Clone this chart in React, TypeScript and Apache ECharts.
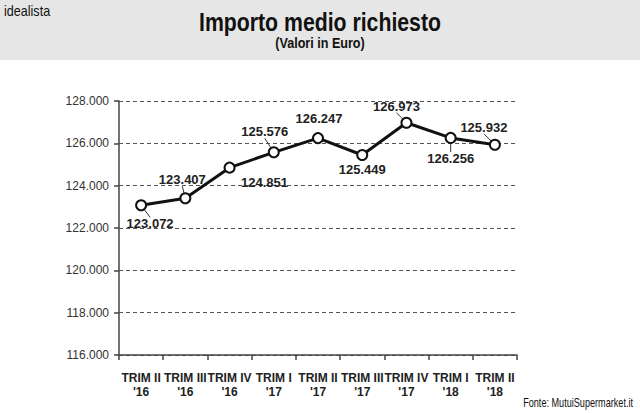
import React, { useEffect, useRef } from "react";
import * as echarts from "echarts";

const categories = ["TRIM II\n'16", "TRIM III\n'16", "TRIM IV\n'16", "TRIM I\n'17", "TRIM II\n'17", "TRIM III\n'17", "TRIM IV\n'17", "TRIM I\n'18", "TRIM II\n'18"];
const values = [123072, 123407, 124851, 125576, 126247, 125449, 126973, 126256, 125932];
const labelSides = ["bottom", "top", "bottom", "top", "top", "bottom", "top", "bottom", "top"];
const labelOffsets = [[9, 1], [-3, -1], [35, -3], [-9, -3], [1, -2], [0, -3], [-10, 1], [0, 3], [-11, 0]];
const showLeader = [true, true, false, true, false, false, true, true, true];

const fmt = (v: number) => {
  const s = Math.round(v).toString();
  return s.replace(/\B(?=(\d{3})+(?!\d))/g, ".");
};

export default function App() {
  const ref = useRef<HTMLDivElement>(null);
  useEffect(() => {
    if (!ref.current) return;
    const chart = echarts.init(ref.current, undefined, { renderer: "svg" });
    const sans = "Liberation Sans";
    chart.setOption({
      animation: false,
      backgroundColor: "#ffffff",
      graphic: [
        { type: "rect", left: 0, top: 0, shape: { width: 640, height: 60 }, style: { fill: "#e6e6e6" }, z: -10 },
        { type: "text", x: 4, y: 11, scaleX: 0.9, style: { text: "idealista", fontFamily: sans, fontSize: 14, fill: "#111", verticalAlign: "middle" } },
        { type: "text", x: 320, y: 22, scaleX: 0.85, style: { text: "Importo medio richiesto", fontFamily: sans, fontWeight: "bold", fontSize: 25, fill: "#111", align: "center", verticalAlign: "middle" } },
        { type: "text", x: 320, y: 43, scaleX: 0.9, style: { text: "(Valori in Euro)", fontFamily: sans, fontWeight: "bold", fontSize: 14, fill: "#111", align: "center", verticalAlign: "middle" } },
        { type: "text", x: 633, y: 402, scaleX: 0.76, style: { text: "Fonte: MutuiSupermarket.it", fontFamily: sans, fontSize: 12, fill: "#111", align: "right", verticalAlign: "middle" } },
      ],
      grid: { left: 119, right: 123, top: 101, bottom: 58, containLabel: false },
      xAxis: {
        type: "category",
        data: categories,
        boundaryGap: true,
        axisLine: { lineStyle: { color: "#444", width: 1.5 } },
        axisTick: { show: true, length: 5, lineStyle: { color: "#444", width: 1.5 } },
        axisLabel: { interval: 0, margin: 16, fontFamily: sans, fontWeight: "bold", fontSize: 12, color: "#222", lineHeight: 14 },
      },
      yAxis: {
        type: "value",
        min: 116000,
        max: 128000,
        interval: 2000,
        axisLine: { show: true, lineStyle: { color: "#444", width: 1.5 } },
        axisTick: { show: true, length: 5, lineStyle: { color: "#444", width: 1.5 } },
        axisLabel: { margin: 10, fontFamily: sans, fontSize: 12, color: "#333", formatter: (v: number) => fmt(v) },
        splitLine: { show: true, lineStyle: { color: "#555", type: [4, 3], width: 1 } },
      },
      series: [
        {
          type: "line",
          data: values.map((v, i) => ({
            value: v,
            label: {
              show: true,
              position: labelSides[i],
            },
            labelLine: { show: showLeader[i] },
          })),
          symbol: "circle",
          symbolSize: 10,
          itemStyle: { color: "#fff", borderColor: "#111", borderWidth: 2 },
          lineStyle: { color: "#111", width: 3 },
          labelLine: { show: true, lineStyle: { color: "#333", width: 1 } },
          labelLayout: (p: any) => ({ dx: labelOffsets[p.dataIndex][0], dy: labelOffsets[p.dataIndex][1] }),
          label: {
            show: true,
            fontFamily: sans,
            fontWeight: "bold",
            fontSize: 13,
            color: "#222",
            formatter: (p: any) => fmt(p.value),
          },
        },
      ],
    });
    return () => chart.dispose();
  }, []);
  return <div ref={ref} style={{ position: "absolute", left: 0, top: 0, width: 640, height: 413 }} />;
}
